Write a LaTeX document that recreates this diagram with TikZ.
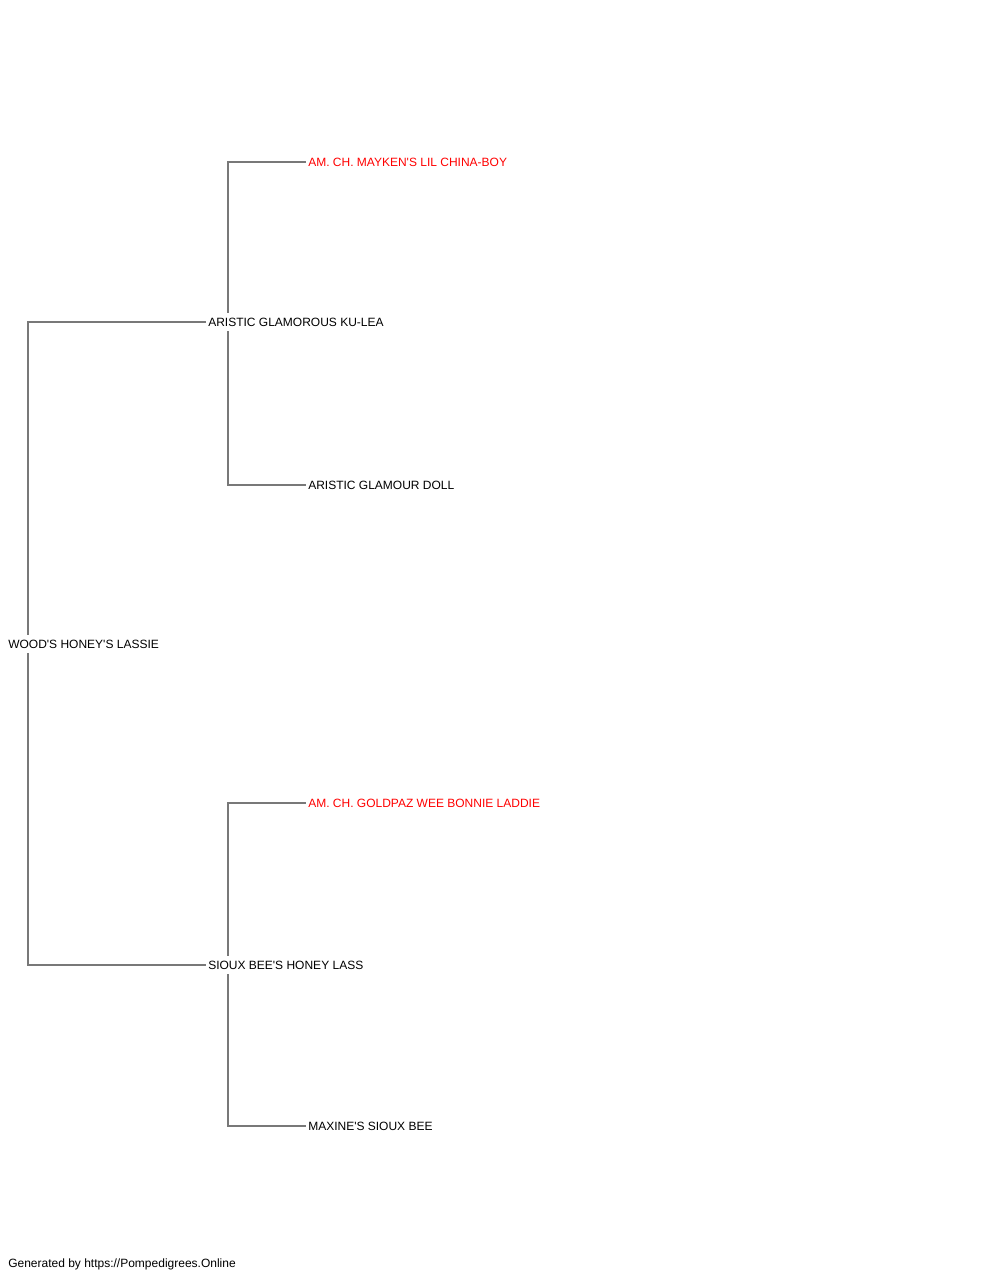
\documentclass[tikz,border=0pt]{standalone}
\usepackage{fontspec}
\setmainfont{Liberation Sans}[Ligatures=TeXOff]
\usetikzlibrary{positioning}

\begin{document}
\begin{tikzpicture}[x=0.75pt,y=-0.75pt,
      dog/.style={anchor=west,inner xsep=1.5pt,inner ysep=0pt,minimum height=13.5pt,font=\fontsize{9}{10}\selectfont},
      champ/.style={dog,text=red},
      link/.style={draw=black!53,line width=1.5pt}]
      \useasboundingbox (0,0) rectangle (1000,1280);

      \coordinate (r) at (6,644);
      \coordinate[above right=241.5pt and 150pt of r] (s);
      \coordinate[below right=240.75pt and 150pt of r] (d);
      \coordinate[above right=120pt and 75pt of s] (ss);
      \coordinate[below right=122.25pt and 75pt of s] (sd);
      \coordinate[above right=121.5pt and 75pt of d] (ds);
      \coordinate[below right=120.75pt and 75pt of d] (dd);

      \node[dog] (root) at (r) {WOOD'S HONEY'S LASSIE};
      \node[dog] (sire) at (s) {ARISTIC GLAMOROUS KU-LEA};
      \node[dog] (dam) at (d) {SIOUX BEE'S HONEY LASS};
      \node[champ] (siresire) at (ss) {AM. CH. MAYKEN'S LIL CHINA-BOY};
      \node[dog] (siredam) at (sd) {ARISTIC GLAMOUR DOLL};
      \node[champ] (damsire) at (ds) {AM. CH. GOLDPAZ WEE BONNIE LADDIE};
      \node[dog] (damdam) at (dd) {MAXINE'S SIOUX BEE};

      \draw[link] ([xshift=16.5pt]root.north west) |- (sire.west);
      \draw[link] ([xshift=16.5pt]root.south west) |- (dam.west);
      \draw[link] ([xshift=16.5pt]sire.north west) |- (siresire.west);
      \draw[link] ([xshift=16.5pt]sire.south west) |- (siredam.west);
      \draw[link] ([xshift=16.5pt]dam.north west) |- (damsire.west);
      \draw[link] ([xshift=16.5pt]dam.south west) |- (damdam.west);

      \node[dog] (credit) at (6,1264) {Generated by https://Pompedigrees.Online};
\end{tikzpicture}
\end{document}
